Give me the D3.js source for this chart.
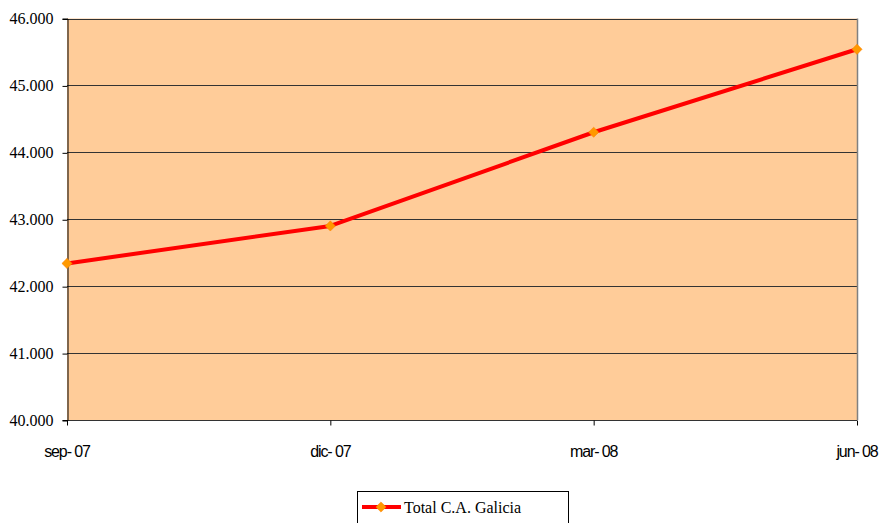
<!DOCTYPE html>
<html>
<head>
<meta charset="utf-8">
<script src="https://cdnjs.cloudflare.com/ajax/libs/d3/7.8.5/d3.min.js"></script>
<style>
  html, body { margin: 0; padding: 0; background: #ffffff; }
  svg { display: block; }
</style>
</head>
<body>
<svg id="chart" width="883" height="523"></svg>
<script>
// Quarterly totals, Galicia (thousands)
const periods = ["sep- 07", "dic- 07", "mar- 08", "jun- 08"];
const totals = [42.34, 42.90, 44.30, 45.54];
const yTicks = [40, 41, 42, 43, 44, 45, 46];
const seriesName = "Total C.A. Galicia";

const svg = d3.select("#chart");
const margin = { left: 67, right: 26, top: 18.5, bottom: 103 };
const W = 883, H = 523;
const x0 = margin.left, x1 = W - margin.right;
const y0 = H - margin.bottom, y1 = margin.top;

const x = d3.scalePoint().domain(periods).range([x0, x1]);
const y = d3.scaleLinear().domain([40, 46]).range([y0, y1]);

const serif = "'Liberation Serif', 'Times New Roman', serif";
const sans = "'Liberation Sans', Arial, sans-serif";

// plot background
svg.append("rect")
  .attr("x", x0).attr("y", y1)
  .attr("width", x1 - x0).attr("height", y0 - y1)
  .attr("fill", "#FFCC99");

// horizontal gridlines
svg.append("g").selectAll("line")
  .data(yTicks)
  .join("line")
  .attr("x1", x0).attr("x2", x1)
  .attr("y1", d => Math.round(y(d)) + 0.5).attr("y2", d => Math.round(y(d)) + 0.5)
  .attr("stroke", "#333333").attr("stroke-width", 1);

// right border of plot area
svg.append("line")
  .attr("x1", x1 + 0.5).attr("x2", x1 + 0.5)
  .attr("y1", y1).attr("y2", y0)
  .attr("stroke", "#808080").attr("stroke-width", 1.5);

// y axis
const yAxis = d3.axisLeft(y)
  .tickValues(yTicks)
  .tickSize(5)
  .tickPadding(9)
  .tickFormat(d => d3.format(".3f")(d));
const gy = svg.append("g")
  .attr("transform", `translate(${x0 + 0.5},0)`)
  .call(yAxis)
  .attr("font-family", serif)
  .attr("font-size", 16);
gy.select(".domain").attr("stroke", "#000").attr("stroke-width", 1);
gy.selectAll(".tick line").attr("stroke", "#000")
  .attr("transform", "translate(0,0.5)");
gy.selectAll(".tick text")
  .style("font-family", serif)
  .style("font-size", "16px")
  .attr("fill", "#000");

// x axis (condensed sans labels)
const xAxis = d3.axisBottom(x)
  .tickSize(5)
  .tickPadding(20);
const gx = svg.append("g")
  .attr("transform", `translate(0,${Math.round(y0) + 0.5})`)
  .call(xAxis);
gx.select(".domain").remove();
gx.selectAll(".tick line").attr("stroke", "#000");
gx.selectAll(".tick text")
  .style("font-family", sans)
  .style("font-size", "16px")
  .style("letter-spacing", "-1.1px")
  .attr("dx", "-0.5px")
  .attr("fill", "#000");

// series line
const line = d3.line()
  .x((d, i) => x(periods[i]))
  .y(d => y(d));
svg.append("path")
  .datum(totals)
  .attr("d", line)
  .attr("fill", "none")
  .attr("stroke", "#FF0000")
  .attr("stroke-width", 4)
  .attr("stroke-linejoin", "round");

// diamond markers (rotated squares)
const diamond = d3.symbol().type(d3.symbolSquare).size(52);
svg.append("g").selectAll("path")
  .data(totals)
  .join("path")
  .attr("d", diamond)
  .attr("transform", (d, i) => `translate(${x(periods[i])},${y(d)}) rotate(45)`)
  .attr("fill", "#FF9900")
  .attr("stroke", "#FF8000")
  .attr("stroke-width", 0.5);

// legend
const lg = svg.append("g");
lg.append("rect")
  .attr("x", 357.5).attr("y", 491.5)
  .attr("width", 211).attr("height", 40)
  .attr("fill", "#fff").attr("stroke", "#000").attr("stroke-width", 1);
lg.append("line")
  .attr("x1", 362).attr("x2", 401)
  .attr("y1", 507).attr("y2", 507)
  .attr("stroke", "#FF0000").attr("stroke-width", 4);
lg.append("path")
  .attr("d", diamond)
  .attr("transform", "translate(381,507) rotate(45)")
  .attr("fill", "#FF9900")
  .attr("stroke", "#FF8000")
  .attr("stroke-width", 0.5);
lg.append("text")
  .attr("x", 404).attr("y", 512.5)
  .style("font-family", serif)
  .style("font-size", "16px")
  .attr("fill", "#000")
  .text(seriesName);
</script>
</body>
</html>
